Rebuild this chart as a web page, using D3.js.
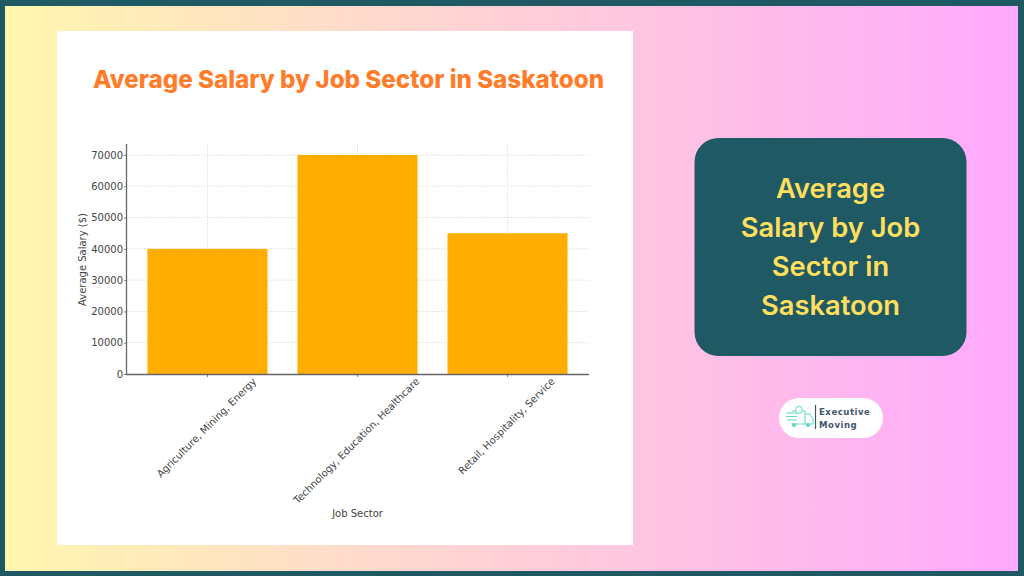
<!DOCTYPE html>
<html>
<head>
<meta charset="utf-8">
<script src="https://cdn.jsdelivr.net/npm/d3@7"></script>
<style>
  html, body { margin: 0; padding: 0; background: #fff; }
  svg { display: block; }
</style>
</head>
<body>
<script>
// Chart data
const sectors = ['Agriculture, Mining, Energy', 'Technology, Education, Healthcare', 'Retail, Hospitality, Service'];
const salaries = [40000, 70000, 45000];
const salaryTicks = [0, 10000, 20000, 30000, 40000, 50000, 60000, 70000];
const chartTitle = 'Average Salary by Job Sector in Saskatoon';
const sideTitleLines = ['Average', 'Salary by Job', 'Sector in', 'Saskatoon'];
const logoLines = ['Executive', 'Moving'];

const svg = d3.select('body').append('svg').attr('width', 1024).attr('height', 576);

// Background gradient and border
const grad = svg.append('defs').append('linearGradient').attr('id', 'bg');
grad.append('stop').attr('offset', '0%').attr('stop-color', '#fff6ae');
grad.append('stop').attr('offset', '50%').attr('stop-color', '#ffcfd8');
grad.append('stop').attr('offset', '100%').attr('stop-color', '#ffa9fd');

svg.append('rect').attr('width', 1024).attr('height', 576).attr('fill', '#1f5a64');
svg.append('rect').attr('x', 5).attr('y', 6).attr('width', 1013).attr('height', 565).attr('fill', 'url(#bg)');

// White chart panel
svg.append('rect').attr('x', 57).attr('y', 31).attr('width', 576).attr('height', 514).attr('fill', '#fff');

svg.append('text')
  .attr('x', 348.5).attr('y', 88)
  .attr('text-anchor', 'middle')
  .style('font-family', 'Inter')
  .style('font-weight', 800)
  .style('font-size', '24.2px')
  .attr('fill', '#ff7d2a')
  .text(chartTitle);

// Scales
const x = d3.scaleBand().domain(sectors).range([126, 589]).paddingInner(0.2).paddingOuter(0.143);
const y = d3.scaleLinear().domain([0, 70000]).range([374, 155]);
const plotTop = 144;
const labelColor = '#444';

// Grid lines, faint and dotted
const drawGrid = (layer, color) => {
  layer.selectAll('.gy').data(salaryTicks.slice(1)).enter().append('line')
    .attr('x1', 126).attr('x2', 589)
    .attr('y1', d => y(d)).attr('y2', d => y(d))
    .attr('stroke', color).attr('stroke-width', 1).attr('stroke-dasharray', '2,1');
  layer.selectAll('.gx').data(sectors).enter().append('line')
    .attr('x1', d => x(d) + x.bandwidth() / 2).attr('x2', d => x(d) + x.bandwidth() / 2)
    .attr('y1', plotTop).attr('y2', 374)
    .attr('stroke', color).attr('stroke-width', 1).attr('stroke-dasharray', '2,1');
};

drawGrid(svg.append('g'), '#e6e6e6');

svg.selectAll('.bar').data(salaries).enter().append('rect')
  .attr('class', 'bar')
  .attr('x', (d, i) => x(sectors[i]))
  .attr('y', d => y(d))
  .attr('width', x.bandwidth())
  .attr('height', d => y(0) - y(d))
  .attr('fill', '#ffae00');

// Axes
const yAxis = svg.append('g').attr('transform', 'translate(126,0)')
  .call(d3.axisLeft(y).tickValues(salaryTicks).tickFormat(d3.format('d')).tickSize(2).tickPadding(1));
const xAxis = svg.append('g').attr('transform', 'translate(0,374)')
  .call(d3.axisBottom(x).tickSize(3).tickPadding(3));

yAxis.select('.domain').attr('d', `M0.5,${plotTop}V374`);
xAxis.select('.domain').attr('d', 'M126,0.5H589');
svg.selectAll('.domain').attr('stroke', '#666').attr('stroke-width', 1.3);
svg.selectAll('.tick line').attr('stroke', '#555').attr('stroke-width', 0.7);
svg.selectAll('.tick text')
  .style('font-family', 'DejaVu Sans')
  .style('font-size', '10px')
  .attr('fill', labelColor);

// Slanted labels, centred under the tick
xAxis.selectAll('.tick text')
  .attr('text-anchor', 'middle')
  .attr('dy', 0)
  .attr('y', 0)
  .attr('transform', function () {
    const half = this.getComputedTextLength() / 2 * Math.SQRT1_2;
    return `translate(1.5,${half + 8}) rotate(-45)`;
  });

svg.append('text')
  .attr('x', 357.5).attr('y', 517)
  .attr('text-anchor', 'middle')
  .style('font-family', 'DejaVu Sans').style('font-size', '10px')
  .attr('fill', labelColor)
  .text('Job Sector');

svg.append('text')
  .attr('transform', 'translate(86,259.5) rotate(-90)')
  .attr('text-anchor', 'middle')
  .style('font-family', 'DejaVu Sans').style('font-size', '10px')
  .attr('fill', labelColor)
  .text('Average Salary ($)');

// Side card
svg.append('rect').attr('x', 694.5).attr('y', 138).attr('width', 272).attr('height', 218).attr('rx', 24).attr('fill', '#1f5a64');
svg.selectAll('.side').data(sideTitleLines).enter().append('text')
  .attr('class', 'side')
  .attr('x', 830.5)
  .attr('y', (d, i) => 198 + i * 39)
  .attr('text-anchor', 'middle')
  .style('font-family', 'Inter')
  .style('font-weight', 600)
  .style('font-size', '27.3px')
  .attr('fill', '#ffdf5e')
  .text(d => d);

// Logo pill
svg.append('rect').attr('x', 779).attr('y', 398).attr('width', 104).attr('height', 40).attr('rx', 20).attr('fill', '#fff');
const truck = svg.append('g').attr('fill', 'none').attr('stroke', '#5fdcc0').attr('stroke-width', 1);
truck.append('path').attr('d', 'M792,411H805V424H792 M805,414H810L813,419V424H805');
truck.append('path').attr('d', 'M786,413H797 M786,416.5H797 M787,420H797');
truck.append('circle').attr('cx', 799).attr('cy', 410).attr('r', 3.5).attr('fill', '#fff');
truck.append('circle').attr('cx', 794).attr('cy', 425).attr('r', 1.6).attr('fill', '#5fdcc0');
truck.append('circle').attr('cx', 808).attr('cy', 425).attr('r', 1.6).attr('fill', '#5fdcc0');
svg.append('line').attr('x1', 815.5).attr('x2', 815.5).attr('y1', 405).attr('y2', 429).attr('stroke', '#44566c').attr('stroke-width', 1.2);
svg.selectAll('.logo').data(logoLines).enter().append('text')
  .attr('class', 'logo')
  .attr('x', 819)
  .attr('y', (d, i) => 415 + i * 13)
  .style('font-family', 'DejaVu Sans')
  .style('font-weight', 700)
  .style('font-size', '8.6px')
  .style('letter-spacing', '0.5px')
  .attr('fill', '#44566c')
  .text(d => d);
</script>
</body>
</html>
